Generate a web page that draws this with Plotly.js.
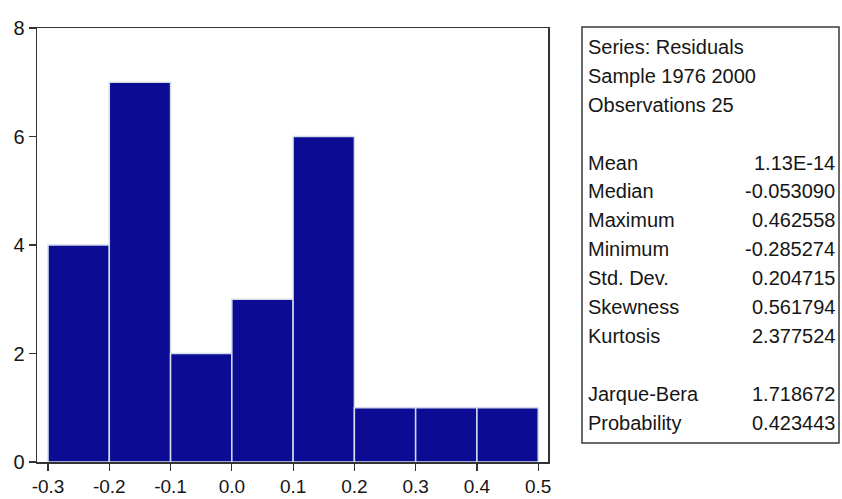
<!DOCTYPE html>
<html>
<head>
<meta charset="utf-8">
<script src="https://cdn.plot.ly/plotly-3.0.1.min.js"></script>
<style>
  html, body { margin: 0; padding: 0; background: #fff; }
  #chart { width: 842px; height: 499px; }
</style>
</head>
<body>
<div id="chart"></div>
<script>
// Histogram of residuals (bin centers, width 0.1)
const binCenters = [-0.25, -0.15, -0.05, 0.05, 0.15, 0.25, 0.35, 0.45];
const binCounts  = [4, 7, 2, 3, 6, 1, 1, 1];
const binWidth = 0.1;

const xTickVals = [-0.3, -0.2, -0.1, 0.0, 0.1, 0.2, 0.3, 0.4, 0.5];
const xTickText = ["-0.3", "-0.2", "-0.1", "0.0", "0.1", "0.2", "0.3", "0.4", "0.5"];
const yTickVals = [0, 2, 4, 6, 8];

const headerLines = ["Series: Residuals", "Sample 1976 2000", "Observations 25"];
const statLabels = ["Mean", "Median", "Maximum", "Minimum", "Std. Dev.", "Skewness", "Kurtosis"];
const statValues = ["1.13E-14", "-0.053090", "0.462558", "-0.285274", "0.204715", "0.561794", "2.377524"];
const testLabels = ["Jarque-Bera", "Probability"];
const testValues = ["1.718672", "0.423443"];

// plot area geometry (pixels)
const W = 842, H = 499;
const L = 37, R = 548, T = 28, B = 462;
const pw = R - L, ph = B - T;
const px = x => (x - L) / pw;
const py = y => (B - y) / ph;

const font = "Liberation Sans, Arial, sans-serif";
const txtColor = "#161616";

const annotations = [];
const rowY0 = 47, rowStep = 28.9;
const labelX = 586, valueX = 837;
function addRow(idx, label, value) {
  const y = rowY0 + rowStep * idx;
  annotations.push({
    xref: "paper", yref: "paper", x: px(labelX), y: py(y),
    xanchor: "left", yanchor: "middle", showarrow: false,
    text: label, font: {family: font, size: 20, color: txtColor}
  });
  if (value !== undefined) {
    annotations.push({
      xref: "paper", yref: "paper", x: px(valueX), y: py(y),
      xanchor: "right", yanchor: "middle", showarrow: false,
      text: value, font: {family: font, size: 20, color: txtColor}
    });
  }
}
headerLines.forEach((t, i) => addRow(i, t));
statLabels.forEach((t, i) => addRow(4 + i, t, statValues[i]));
testLabels.forEach((t, i) => addRow(12 + i, t, testValues[i]));

const shapes = [{
  type: "rect", xref: "paper", yref: "paper",
  x0: px(582), x1: px(839), y0: py(443), y1: py(27),
  line: {color: "#3a3a3a", width: 1.5}, fillcolor: "rgba(0,0,0,0)"
}];

const trace = {
  type: "bar",
  x: binCenters,
  y: binCounts,
  width: binCenters.map(() => binWidth),
  marker: {color: "#0b0b94", line: {color: "#d4dcea", width: 1.5}},
  hoverinfo: "skip"
};

const layout = {
  width: W, height: H,
  margin: {l: L, r: W - R, t: T, b: H - B, pad: 0},
  paper_bgcolor: "#ffffff",
  plot_bgcolor: "#ffffff",
  showlegend: false,
  bargap: 0,
  xaxis: {
    range: [-0.318, 0.516],
    tickvals: xTickVals, ticktext: xTickText,
    ticks: "outside", ticklen: 7, tickcolor: "#333", tickwidth: 1.2,
    showgrid: false, zeroline: false,
    showline: true, linecolor: "#333", linewidth: 1.5, mirror: true,
    tickfont: {family: font, size: 19, color: txtColor}
  },
  yaxis: {
    range: [0, 8],
    tickvals: yTickVals,
    ticks: "outside", ticklen: 7, tickcolor: "#333", tickwidth: 1.2,
    showgrid: false, zeroline: false,
    showline: true, linecolor: "#333", linewidth: 1.5, mirror: true,
    tickfont: {family: font, size: 20, color: txtColor}
  },
  shapes: shapes,
  annotations: annotations
};

Plotly.newPlot("chart", [trace], layout, {displayModeBar: false, staticPlot: true});
</script>
</body>
</html>
